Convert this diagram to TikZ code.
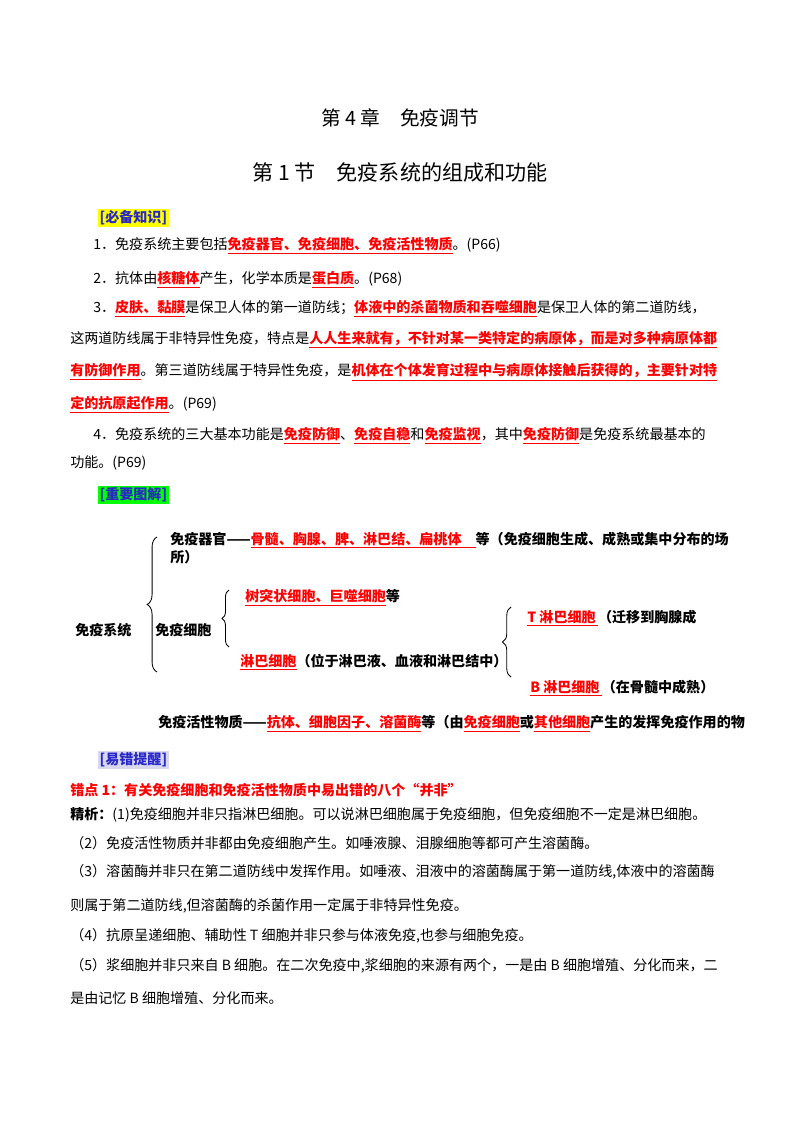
\documentclass[tikz,border=0pt]{standalone}
\usepackage{fontspec}
\setmainfont{Noto Sans CJK SC}
\usetikzlibrary{decorations.pathreplacing}
\definecolor{tagblue}{RGB}{40,40,200}
\definecolor{tagyel}{RGB}{255,255,0}
\definecolor{taggrn}{RGB}{0,255,0}
\definecolor{taglav}{RGB}{215,215,240}
\newcommand{\rd}[1]{\textcolor{red}{\underline{\textbf{#1}}}}
\tikzset{
  txt/.style={anchor=west, inner sep=0pt, font=\fontsize{10}{12}\selectfont},
  dtxt/.style={txt, font=\fontsize{10}{12}\selectfont\bfseries},
  tag/.style={anchor=west, inner sep=1pt, text=tagblue, font=\fontsize{10}{12}\selectfont\bfseries},
  brc/.style={decorate, decoration={brace, amplitude=7pt}, semithick}
}
\begin{document}
\begin{tikzpicture}[x=0.025cm, y=-0.025cm]
  \useasboundingbox (0,0) rectangle (800,1132);
  % titles
  \node[inner sep=0pt, font=\fontsize{14}{16}\selectfont] (t1) at (400,118) {第 4 章\quad 免疫调节};
  \node[inner sep=0pt, font=\fontsize{15}{17}\selectfont] (t2) at (400,172) {第 1 节\quad 免疫系统的组成和功能};

  % 必备知识
  \node[tag, fill=tagyel] (k0) at (98,218) {[必备知识]};
  \node[txt] (k1) at (93,246) {1．免疫系统主要包括\rd{免疫器官、免疫细胞、免疫活性物质}。(P66)};
  \node[txt] (k2) at (93,280) {2．抗体由\rd{核糖体}产生，化学本质是\rd{蛋白质}。(P68)};
  \node[txt] (k3) at (93,309) {3．\rd{皮肤、黏膜}是保卫人体的第一道防线；\rd{体液中的杀菌物质和吞噬细胞}是保卫人体的第二道防线，};
  \node[txt] (k4) at (70,340) {这两道防线属于非特异性免疫，特点是\rd{人人生来就有，不针对某一类特定的病原体，而是对多种病原体都}};
  \node[txt] (k5) at (70,372) {\rd{有防御作用}。第三道防线属于特异性免疫，是\rd{机体在个体发育过程中与病原体接触后获得的，主要针对特}};
  \node[txt] (k6) at (70,405) {\rd{定的抗原起作用}。(P69)};
  \node[txt] (k7) at (93,436) {4．免疫系统的三大基本功能是\rd{免疫防御}、\rd{免疫自稳}和\rd{免疫监视}，其中\rd{免疫防御}是免疫系统最基本的};
  \node[txt] (k8) at (70,463) {功能。(P69)};

  % 重要图解
  \node[tag, fill=taggrn] (g0) at (98,495) {[重要图解]};
  \node[dtxt] (sys) at (75,630) {免疫系统};
  \node[dtxt] (org) at (170,540) {免疫器官——\rd{骨髓、胸腺、脾、淋巴结、扁桃体\quad}等（免疫细胞生成、成熟或集中分布的场};
  \node[dtxt] (org2) at (170,557) {所）};
  \node[dtxt] (cell) at (155,630) {免疫细胞};
  \node[dtxt] (dc) at (245,598) {\rd{树突状细胞、巨噬细胞}等};
  \node[dtxt] (lym) at (240,662) {\rd{淋巴细胞}（位于淋巴液、血液和淋巴结中）};
  \node[dtxt] (tc) at (527,618) {\rd{T 淋巴细胞\,}（迁移到胸腺成};
  \node[dtxt] (bc) at (530,688) {\rd{B 淋巴细胞\,}（在骨髓中成熟）};
  \node[dtxt] (act) at (158,724) {免疫活性物质——\rd{抗体、细胞因子、溶菌酶}等（由\rd{免疫细胞}或\rd{其他细胞}产生的发挥免疫作用的物};
  \draw[brc] (157,672) -- (157,537);
  \draw[brc, decoration={amplitude=5pt}] (229,647) -- (229,590);
  \draw[brc, decoration={amplitude=6pt}] (511,677) -- (511,607);

  % 易错提醒
  \node[tag, fill=taglav] (e0) at (98,760) {[易错提醒]};
  \node[txt, text=red, font=\fontsize{10}{12}\selectfont\bfseries] (e1) at (70,790) {错点 1：有关免疫细胞和免疫活性物质中易出错的八个“并非”};
  \node[txt] (e2) at (70,815) {\textbf{精析：}(1)免疫细胞并非只指淋巴细胞。可以说淋巴细胞属于免疫细胞，但免疫细胞不一定是淋巴细胞。};
  \node[txt] (e3) at (70,843) {（2）免疫活性物质并非都由免疫细胞产生。如唾液腺、泪腺细胞等都可产生溶菌酶。};
  \node[txt] (e4) at (70,872) {（3）溶菌酶并非只在第二道防线中发挥作用。如唾液、泪液中的溶菌酶属于第一道防线,体液中的溶菌酶};
  \node[txt] (e5) at (70,906) {则属于第二道防线,但溶菌酶的杀菌作用一定属于非特异性免疫。};
  \node[txt] (e6) at (70,936) {（4）抗原呈递细胞、辅助性 T 细胞并非只参与体液免疫,也参与细胞免疫。};
  \node[txt] (e7) at (70,966) {（5）浆细胞并非只来自 B 细胞。在二次免疫中,浆细胞的来源有两个，一是由 B 细胞增殖、分化而来，二};
  \node[txt] (e8) at (70,998) {是由记忆 B 细胞增殖、分化而来。};
\end{tikzpicture}
\end{document}
